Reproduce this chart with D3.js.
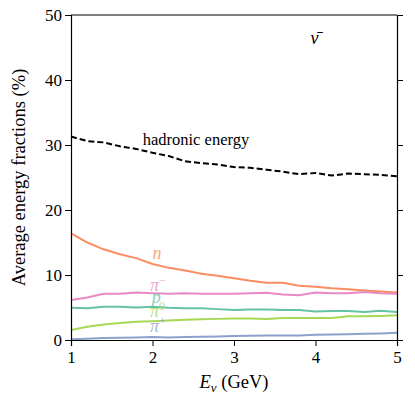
<!DOCTYPE html>
<html>
<head>
<meta charset="utf-8">
<script src="https://cdn.jsdelivr.net/npm/d3@7"></script>
<style>
  body { margin: 0; background: #fff; }
</style>
</head>
<body>
<svg id="chart"></svg>
<script>
const energies = [1.0, 1.2, 1.4, 1.6, 1.8, 2.0, 2.2, 2.4, 2.6, 2.8, 3.0,
                  3.2, 3.4, 3.6, 3.8, 4.0, 4.2, 4.4, 4.6, 4.8, 5.0];
const hadronic = [31.3, 30.6, 30.4, 29.8, 29.4, 28.8, 28.3, 27.5, 27.2, 27.0, 26.6,
                  26.5, 26.2, 25.9, 25.5, 25.7, 25.3, 25.6, 25.5, 25.4, 25.2];
const neutron  = [16.4, 15.0, 13.95, 13.2, 12.6, 11.7, 11.1, 10.7, 10.2, 9.9, 9.5,
                  9.1, 8.8, 8.8, 8.35, 8.2, 7.95, 7.8, 7.6, 7.45, 7.3];
const piMinus  = [6.15, 6.55, 7.1, 7.1, 7.3, 7.2, 7.1, 7.2, 7.1, 7.1, 7.1,
                  7.2, 7.25, 7.0, 6.9, 7.3, 7.2, 7.2, 7.4, 7.2, 7.1];
const proton   = [4.97, 4.9, 5.1, 5.1, 5.0, 5.1, 4.95, 4.9, 4.9, 4.75, 4.6,
                  4.7, 4.7, 4.6, 4.6, 4.4, 4.45, 4.45, 4.3, 4.5, 4.3];
const piZero   = [1.55, 2.05, 2.4, 2.6, 2.8, 2.9, 3.0, 3.1, 3.2, 3.25, 3.3,
                  3.3, 3.25, 3.4, 3.4, 3.4, 3.4, 3.65, 3.65, 3.7, 3.8];
const piPlus   = [0.1, 0.2, 0.3, 0.35, 0.4, 0.45, 0.4, 0.45, 0.5, 0.55, 0.6,
                  0.65, 0.7, 0.7, 0.7, 0.8, 0.85, 0.9, 0.95, 1.0, 1.1];
const xTicks = [1, 2, 3, 4, 5];
const yTicks = [0, 10, 20, 30, 40, 50];

const width = 415, height = 395;
const margin = { top: 15, right: 18, bottom: 55, left: 71 };
const serif = "Liberation Serif";

const svg = d3.select("#chart")
  .attr("width", width).attr("height", height);

const x = d3.scaleLinear().domain([1, 5]).range([margin.left, width - margin.right]);
const y = d3.scaleLinear().domain([0, 50]).range([height - margin.bottom, margin.top]);

// series
const series = [
  { name: "n", values: neutron, color: "#fc8d62", lx: 2.0, ly: 12.4, sup: "" },
  { name: "π", values: piMinus, color: "#e78ac3", lx: 1.97, ly: 7.5, sup: "−" },
  { name: "p", values: proton, color: "#66c2a5", lx: 1.99, ly: 5.7, sup: "" },
  { name: "π", values: piZero, color: "#a6d854", lx: 1.97, ly: 3.5, sup: "0" },
  { name: "π", values: piPlus, color: "#8da0cb", lx: 1.97, ly: 1.2, sup: "+" }
];

const line = d3.line().x((d, i) => x(energies[i])).y(d => y(d));

series.forEach(s => {
  svg.append("path")
    .datum(s.values)
    .attr("d", line)
    .attr("fill", "none")
    .attr("stroke", s.color)
    .attr("stroke-width", 2);
});

svg.append("path")
  .datum(hadronic)
  .attr("d", line)
  .attr("fill", "none")
  .attr("stroke", "#000")
  .attr("stroke-width", 2)
  .attr("stroke-dasharray", "6,3");

// labels
series.forEach(s => {
  const t = svg.append("text")
    .attr("x", x(s.lx))
    .attr("y", y(s.ly))
    .attr("fill", s.color)
    .attr("fill-opacity", 0.8)
    .style("font-family", serif)
    .style("font-size", "18px")
    .style("font-style", "italic")
    .text(s.name);
  if (s.sup) {
    t.append("tspan")
      .attr("dy", -7)
      .style("font-size", "12px")
      .style("font-style", "normal")
      .text(s.sup);
  }
});

svg.append("text")
  .attr("x", x(1.88))
  .attr("y", y(30.0))
  .style("font-family", serif)
  .style("font-size", "16.5px")
  .text("hadronic energy");

svg.append("text")
  .attr("x", x(4.0) - 5)
  .attr("y", y(45.6))
  .style("font-family", serif)
  .style("font-size", "18px")
  .style("font-style", "italic")
  .text("ν̄");

// axes
const bottomAxis = svg.append("g")
  .attr("transform", `translate(0,${y(0)})`)
  .call(d3.axisBottom(x).tickValues(xTicks).tickFormat(d3.format("d")).tickSize(6));
const leftAxis = svg.append("g")
  .attr("transform", `translate(${x(1)},0)`)
  .call(d3.axisLeft(y).tickValues(yTicks).tickSize(6));
svg.append("g")
  .attr("transform", `translate(${x(5)},0)`)
  .call(d3.axisRight(y).tickValues(yTicks).tickSize(6).tickFormat(""));
svg.append("line")
  .attr("x1", x(1)).attr("x2", x(5))
  .attr("y1", y(50)).attr("y2", y(50))
  .attr("stroke", "#000");

svg.selectAll(".domain").attr("stroke", "#000").attr("stroke-width", 1.2);
[bottomAxis, leftAxis].forEach(a => {
  a.attr("font-family", null);
  a.selectAll("text")
    .style("font-family", serif)
    .style("font-size", "17px")
    .attr("fill", "#000");
});
leftAxis.selectAll("text").attr("dy", "0.35em");
bottomAxis.selectAll("text").attr("dy", "0.85em");

// axis titles
svg.append("text")
  .attr("transform", "rotate(-90)")
  .attr("x", -(y(25)))
  .attr("y", 25)
  .attr("text-anchor", "middle")
  .style("font-family", serif)
  .style("font-size", "18.5px")
  .text("Average energy fractions (%)");

const xl = svg.append("text")
  .attr("x", x(3))
  .attr("y", 388)
  .attr("text-anchor", "middle")
  .style("font-family", serif)
  .style("font-size", "18.5px");
xl.append("tspan").style("font-style", "italic").text("E");
xl.append("tspan").attr("dy", 4).style("font-size", "13px").style("font-style", "italic").text("ν");
xl.append("tspan").attr("dy", -4).text(" (GeV)");
</script>
</body>
</html>
